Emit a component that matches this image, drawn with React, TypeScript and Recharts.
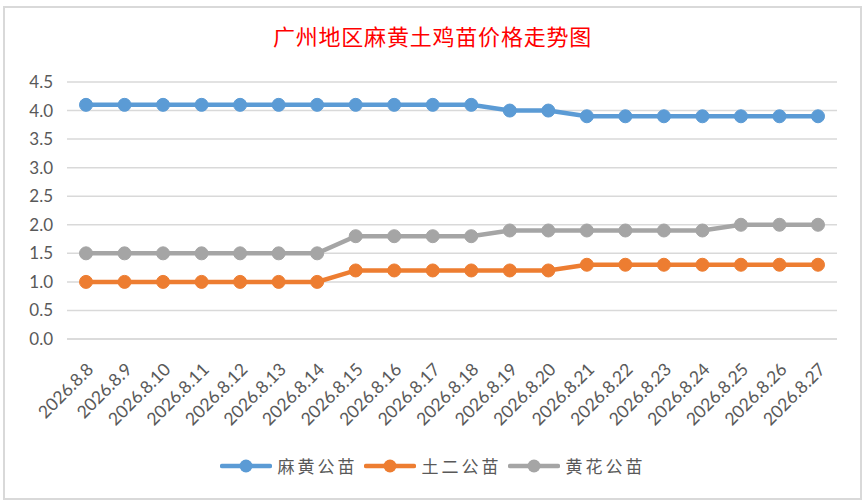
import type { FC } from "react";
import { LineChart, Line, XAxis, YAxis, CartesianGrid } from "recharts";

const DATES = [
  "2026.8.8", "2026.8.9", "2026.8.10", "2026.8.11", "2026.8.12",
  "2026.8.13", "2026.8.14", "2026.8.15", "2026.8.16", "2026.8.17",
  "2026.8.18", "2026.8.19", "2026.8.20", "2026.8.21", "2026.8.22",
  "2026.8.23", "2026.8.24", "2026.8.25", "2026.8.26", "2026.8.27",
];
const MAHUANG = [4.1, 4.1, 4.1, 4.1, 4.1, 4.1, 4.1, 4.1, 4.1, 4.1, 4.1, 4.0, 4.0, 3.9, 3.9, 3.9, 3.9, 3.9, 3.9, 3.9];
const TUER = [1.0, 1.0, 1.0, 1.0, 1.0, 1.0, 1.0, 1.2, 1.2, 1.2, 1.2, 1.2, 1.2, 1.3, 1.3, 1.3, 1.3, 1.3, 1.3, 1.3];
const HUANGHUA = [1.5, 1.5, 1.5, 1.5, 1.5, 1.5, 1.5, 1.8, 1.8, 1.8, 1.8, 1.9, 1.9, 1.9, 1.9, 1.9, 1.9, 2.0, 2.0, 2.0];
const Y_TICKS = [0, 0.5, 1, 1.5, 2, 2.5, 3, 3.5, 4, 4.5];

const SERIES = [
  { key: "mahuang", name: "麻黄公苗", color: "#5b9bd5" },
  { key: "tuer", name: "土二公苗", color: "#ed7d31" },
  { key: "huanghua", name: "黄花公苗", color: "#a5a5a5" },
];

const data = DATES.map((d, i) => ({
  date: d,
  mahuang: MAHUANG[i],
  tuer: TUER[i],
  huanghua: HUANGHUA[i],
}));

const FONT = "Lato, 'Noto Sans CJK SC', sans-serif";
const TEXT = "#595959";

const DateTick = (props: any) => {
  const { x, y, payload } = props;
  return (
    <g transform={`translate(${x + 5},${y + 20})`}>
      <text
        transform="rotate(-45)"
        textAnchor="end"
        fontSize={17.5}
        fontFamily={FONT}
        fill={TEXT}
        dy={5}
      >
        {payload.value}
      </text>
    </g>
  );
};

const App: FC = () => (
  <div
    style={{
      position: "fixed",
      left: 0,
      top: 0,
      width: 865,
      height: 504,
      background: "#fff",
      overflow: "hidden",
    }}
  >
    <div
      style={{
        position: "absolute",
        left: 3,
        top: 6,
        width: 859,
        height: 494,
        border: "2px solid #d9d9d9",
        boxSizing: "border-box",
      }}
    />
    <div
      style={{
        position: "absolute",
        left: 0,
        top: 19,
        width: 865,
        textAlign: "center",
        color: "#ff0000",
        fontSize: 22,
        letterSpacing: 0.8,
        fontFamily: "'Noto Sans CJK SC', sans-serif",
        lineHeight: "32px",
      }}
    >
      广州地区麻黄土鸡苗价格走势图
    </div>
    <div style={{ position: "absolute", left: 0, top: 0 }}>
      <LineChart
        width={865}
        height={504}
        data={data}
        margin={{ top: 82, right: 28, left: 7, bottom: 0 }}
      >
        <CartesianGrid vertical={false} stroke="#d9d9d9" strokeWidth={1.5} />
        <XAxis
          dataKey="date"
          height={165}
          interval={0}
          padding={{ left: 19, right: 19 }}
          tickLine={false}
          axisLine={{ stroke: "#d9d9d9", strokeWidth: 1.5 }}
          tick={<DateTick />}
        />
        <YAxis
          width={60}
          domain={[0, 4.5]}
          ticks={Y_TICKS}
          tickFormatter={(v: number) => v.toFixed(1)}
          axisLine={false}
          tickLine={false}
          tickSize={0}
          tickMargin={14}
          tick={{ fontSize: 17, fontFamily: FONT, fill: TEXT }}
        />
        {SERIES.map((s) => (
          <Line
            key={s.key}
            dataKey={s.key}
            name={s.name}
            stroke={s.color}
            strokeWidth={4.5}
            dot={{ r: 6.5, fill: s.color, stroke: s.color, strokeWidth: 1 }}
            activeDot={false}
            isAnimationActive={false}
          />
        ))}
      </LineChart>
    </div>
    <div
      style={{
        position: "absolute",
        left: 0,
        top: 453,
        width: 865,
        display: "flex",
        justifyContent: "center",
        gap: 6,
      }}
    >
      {SERIES.map((s) => (
        <LegendItem key={s.key} color={s.color} label={s.name} />
      ))}
    </div>
  </div>
);

interface LegendItemProps {
  color: string;
  label: string;
}

const LegendItem: FC<LegendItemProps> = ({ color, label }) => (
  <div style={{ display: "flex", alignItems: "center", gap: 6 }}>
    <svg width={52} height={14}>
      <line x1={2} y1={7} x2={50} y2={7} stroke={color} strokeWidth={4.5} strokeLinecap="round" />
      <circle cx={26} cy={7} r={6.5} fill={color} />
    </svg>
    <span
      style={{
        fontSize: 17,
        letterSpacing: 3,
        color: TEXT,
        fontFamily: "'Noto Sans CJK SC', sans-serif",
        lineHeight: "26px",
      }}
    >
      {label}
    </span>
  </div>
);

export default App;
